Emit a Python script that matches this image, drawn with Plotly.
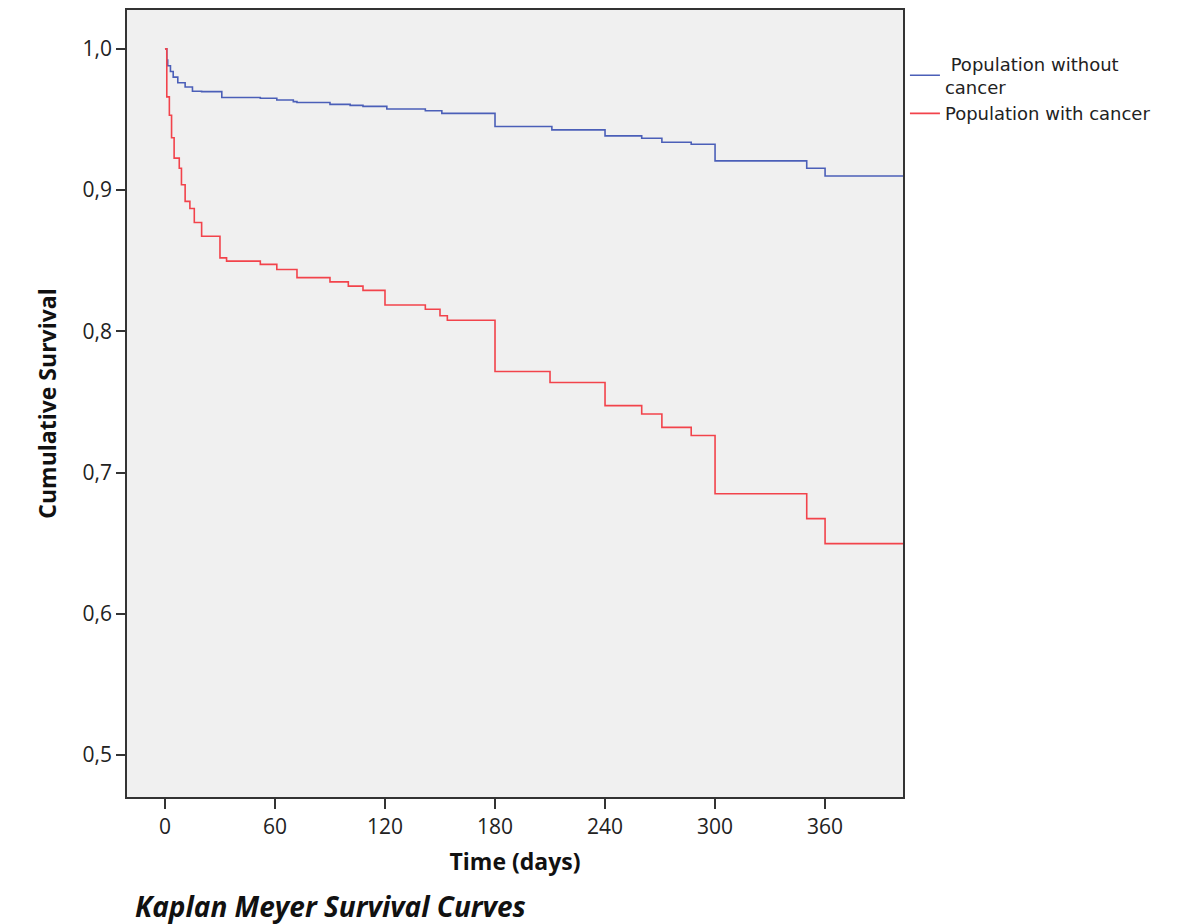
import plotly.graph_objects as go

# Kaplan-Meier step data
time_no_cancer = [0, 1, 1.5, 3, 4.5, 7, 11, 15, 20, 31, 52, 61, 70, 72, 90, 101, 108, 121, 142, 151,
                  180, 211, 240, 260, 271, 287, 300, 350, 360, 402.5]
surv_no_cancer = [1.0, 0.992, 0.988, 0.984, 0.980, 0.976, 0.973, 0.970, 0.9697, 0.9656, 0.965, 0.9638,
                  0.9626, 0.962, 0.9607, 0.960, 0.9593, 0.9574, 0.9562, 0.9543, 0.945, 0.9426, 0.9384,
                  0.9367, 0.9339, 0.9325, 0.9207, 0.9155, 0.910, 0.910]

time_cancer = [0, 1, 2.4, 3.6, 5, 7.8, 9, 11, 13.6, 16, 20, 30, 33.6, 52, 61, 72, 90, 100, 108, 120,
               142, 150, 154, 180, 210, 240, 260, 271, 287, 300, 350, 360, 402.5]
surv_cancer = [1.0, 0.966, 0.953, 0.937, 0.9226, 0.9155, 0.9038, 0.892, 0.887, 0.877, 0.8673, 0.852,
               0.8497, 0.8474, 0.8438, 0.838, 0.835, 0.832, 0.829, 0.8186, 0.8156, 0.811, 0.8078,
               0.7716, 0.7638, 0.7474, 0.7415, 0.732, 0.7262, 0.685, 0.6674, 0.6497, 0.6497]

x_ticks = [0, 60, 120, 180, 240, 300, 360]
y_ticks = [0.5, 0.6, 0.7, 0.8, 0.9, 1.0]

series_names = [" Population without<br>cancer", "Population with cancer"]
series_colors = ["#4b5fb8", "#f2434b"]

fig = go.Figure()
fig.add_trace(go.Scatter(x=time_no_cancer, y=surv_no_cancer, mode="lines", line_shape="hv",
                         line=dict(color=series_colors[0], width=1.6), name=series_names[0]))
fig.add_trace(go.Scatter(x=time_cancer, y=surv_cancer, mode="lines", line_shape="hv",
                         line=dict(color=series_colors[1], width=1.6), name=series_names[1]))

fig.update_layout(
    width=1195, height=916,
    margin=dict(l=119, r=300, t=0, b=127),
    paper_bgcolor="white",
    plot_bgcolor="#f0f0f0",
    separators=",.",
    showlegend=True,
    legend=dict(x=1.0025, y=0.955, xanchor="left", yanchor="top",
                font=dict(family="DejaVu Sans", size=18, color="#222"),
                bgcolor="rgba(0,0,0,0)", tracegroupgap=0, itemwidth=30),
    xaxis=dict(range=[-20.7, 402.5], tickvals=x_ticks, ticks="outside", ticklen=10, tickwidth=1.5,
               tickcolor="#333", showgrid=False, zeroline=False, showline=True, linecolor="#333",
               linewidth=1.5, mirror=True,
               tickfont=dict(family="Open Sans", size=21, color="#222"),
               title=dict(text="<b>Time (days)</b>", font=dict(family="Open Sans", size=23, color="#111"),
                          standoff=15)),
    yaxis=dict(range=[0.4703, 1.0275], tickvals=y_ticks, tickformat=".1f", ticks="outside", ticklen=9,
               tickwidth=1.5, tickcolor="#333", showgrid=False, zeroline=False, showline=True,
               linecolor="#333", linewidth=1.5, mirror=True,
               tickfont=dict(family="Open Sans", size=21, color="#222"),
               title=dict(text="<b>Cumulative Survival</b>", font=dict(family="Open Sans", size=23, color="#111"),
                          standoff=20)),
    annotations=[dict(text="<b><i>Kaplan Meyer Survival Curves</i></b>", xref="paper", yref="paper",
                      x=0.008, y=-0.1385, xanchor="left", yanchor="middle", showarrow=False,
                      font=dict(family="Open Sans", size=28, color="#111"))],
)

fig.write_html("out.html")
